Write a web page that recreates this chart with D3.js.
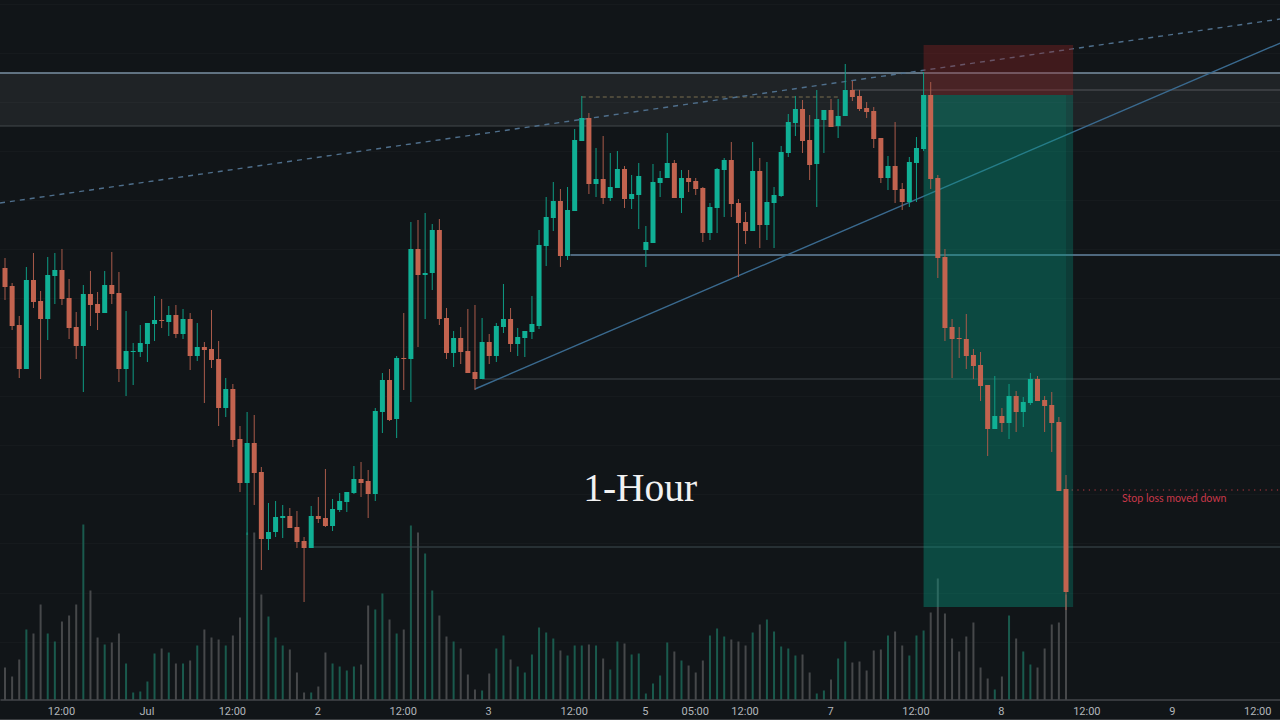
<!DOCTYPE html>
<html>
<head>
<meta charset="utf-8">
<style>
  html, body { margin: 0; padding: 0; background: #111518; }
  svg { display: block; }
  .axis text { font-family: Roboto, sans-serif; font-size: 11px; fill: #b2b5ba; }
</style>
<script src="https://cdnjs.cloudflare.com/ajax/libs/d3/7.8.5/d3.min.js"></script>
</head>
<body>
<div id="chart"></div>
<script>
// hourly candles
const opens = [452,434,395,351,440,419,401,444,450,422,393,374,426,416,407,435,427,351,368,368,
  376,396,400,398,405,386,401,364,373,371,361,312,331,281,237,277,248,181,188,202,
  204,193,179,172,204,202,194,210,218,227,241,239,226,308,340,301,362,361,471,445,
  447,490,402,367,382,369,348,341,378,364,393,401,376,382,388,394,474,502,519,464,
  509,579,602,536,541,522,532,551,521,525,470,477,537,542,557,522,542,539,532,487,
  512,550,560,517,498,489,549,495,517,524,567,597,611,580,556,600,610,594,604,630,
  624,612,609,582,542,554,531,518,557,571,625,542,463,393,382,381,365,355,335,291,
  304,297,324,308,317,341,320,315,298,231];
const highs = [462,437,404,453,467,429,463,467,471,441,408,435,449,428,449,468,448,409,377,395,
  397,424,421,414,415,411,407,397,378,410,379,342,336,294,308,305,253,217,219,215,
  212,209,183,214,223,251,221,227,228,254,258,250,312,347,351,364,407,498,500,507,
  496,501,412,389,393,411,415,402,386,397,436,412,392,389,424,490,523,538,531,533,
  591,624,607,572,584,567,569,554,545,557,494,556,549,587,560,550,550,542,533,517,
  552,562,578,521,508,578,562,558,533,574,606,624,620,605,630,610,621,621,656,639,
  630,618,613,582,564,598,537,563,583,648,638,545,471,401,393,406,371,368,335,344,
  312,336,329,323,347,344,324,328,303,245];
const lows = [420,390,342,351,412,341,380,416,415,381,361,328,394,390,407,416,338,324,335,363,
  358,379,392,384,382,381,350,359,317,352,294,303,273,228,185,215,150,170,183,182,
  192,172,118,172,197,193,189,208,208,226,223,202,219,287,299,282,330,318,373,401,
  430,395,361,353,356,347,330,341,356,358,387,368,364,363,381,391,454,489,453,460,
  509,579,526,523,516,519,532,512,511,491,453,477,523,542,522,507,528,525,478,480,
  487,503,503,443,476,489,472,480,472,523,563,584,567,540,513,567,593,582,604,619,
  609,602,572,537,530,517,510,513,518,569,531,442,379,342,362,351,341,319,264,291,
  288,281,288,293,315,319,288,268,229,110];
const closes = [433,394,351,440,418,401,445,450,421,392,374,426,415,407,435,426,351,369,369,377,
  397,400,399,405,386,401,364,373,370,360,312,331,280,237,277,247,181,188,203,204,
  192,178,172,204,201,194,211,219,228,241,237,226,309,340,300,362,361,471,445,447,
  490,401,367,382,368,347,341,378,364,394,401,376,383,389,396,475,503,519,464,510,
  580,602,536,541,522,533,551,521,526,544,478,538,542,557,522,542,538,531,487,513,
  551,560,516,497,489,549,495,518,525,568,598,611,579,555,601,610,593,604,630,623,
  611,608,581,542,554,530,518,558,572,625,541,462,392,381,381,364,354,334,291,304,
  297,324,308,318,341,319,314,297,229,128];
const volumes = [32,23,40,70,66,95,66,58,78,84,95,175,109,62,55,57,66,36,7,8,
  18,46,51,47,36,36,39,54,70,62,60,54,64,82,167,167,105,83,62,54,
  50,27,7,7,13,47,36,33,29,33,35,94,90,106,80,66,70,174,167,146,
  109,84,63,58,51,25,10,9,26,51,64,40,33,27,45,72,67,61,49,44,
  54,54,55,54,41,30,58,56,45,46,6,16,24,57,48,39,34,27,39,64,
  71,63,60,58,54,67,75,80,68,53,51,44,45,27,6,9,20,41,58,37,
  38,29,49,50,64,68,54,44,64,69,87,121,86,61,48,63,77,32,21,10,
  23,84,61,48,35,32,51,75,77,105];

// time axis: bar number and its label
const tickBars = [8,20,32,44,56,68,80,90,97,104,116,128,140,152,164,176];
const tickLabels = ['12:00','Jul','12:00','2','12:00','3','12:00','5','05:00','12:00','7','12:00','8','12:00','9','12:00'];
const gridPrices = [716,667,618,569,520,471,422,373,324,275,226,177,127,78];

// drawings, as [first bar, last bar, price]
const levelLines = [
  { from: -1, to: 180, price: 647, color: '#7a90a3', width: 1.6 },
  { from: 119, to: 180, price: 630, color: '#54575a', width: 1 },
  { from: -1, to: 180, price: 594, color: '#43484a', width: 1 },
  { from: 79.4, to: 180, price: 465, color: '#6585a0', width: 1.7 },
  { from: 67, to: 180, price: 341, color: '#3f4548', width: 1.2 },
  { from: 43, to: 180, price: 173, color: '#3f4c50', width: 1.2 }
];
const bandPrices = [647, 594];
const entryDash = { from: 81, to: 117, price: 623 };
const trendSolid = [[66, 331], [179.1, 677]];
const trendDashed = [[-0.7, 517], [179.1, 701]];
const stopBox = { from: 129, to: 150, top: 675, bottom: 625 };
const targetBox = { from: 129, to: 150, inner: 149, top: 625, bottom: 113 };
const stopLevel = { from: 149, to: 180, price: 230 };

const chartTitle = '1-Hour';
const stopNote = 'Stop loss moved down';

const width = 1280;
const height = 720;
const axisY = 699.5;

const candles = opens.map((o, i) => ({
  bar: i, open: o, high: highs[i], low: lows[i], close: closes[i], volume: volumes[i]
}));

const x = d3.scaleLinear().domain([0, 149]).range([5, 1066]);
const y = d3.scaleLinear().domain([0, 720]).range([720, 0]);
const yVolume = d3.scaleLinear().domain([0, 180]).range([axisY, axisY - 180]);

const $svg = d3.select('#chart').append('svg')
  .attr('width', width)
  .attr('height', height)
  .style('background', '#111518');

function drawGrid() {
  $svg.append('g').selectAll('line')
    .data(gridPrices)
    .enter().append('line')
    .attr('x1', 0).attr('x2', width)
    .attr('y1', d => y(d) + 0.5).attr('y2', d => y(d) + 0.5)
    .attr('stroke', 'rgba(255,255,255,0.025)');
}

function drawVolume() {
  $svg.append('g').selectAll('rect')
    .data(candles)
    .enter().append('rect')
    .attr('x', d => x(d.bar) - 1)
    .attr('width', 2)
    .attr('y', d => yVolume(d.volume))
    .attr('height', d => axisY - yVolume(d.volume))
    .attr('fill', d => d.close >= d.open ? '#1a5a4d' : '#46484a');
}

function drawBand() {
  $svg.append('rect')
    .attr('x', 0).attr('width', width)
    .attr('y', y(bandPrices[0]))
    .attr('height', y(bandPrices[1]) - y(bandPrices[0]))
    .attr('fill', 'rgba(255,255,255,0.062)');
}

function drawBoxes() {
  $svg.append('rect')
    .attr('x', x(stopBox.from)).attr('width', x(stopBox.to) - x(stopBox.from))
    .attr('y', y(stopBox.top)).attr('height', y(stopBox.bottom) - y(stopBox.top))
    .attr('fill', 'rgba(150,35,35,0.36)');
  $svg.append('rect')
    .attr('x', x(targetBox.from)).attr('width', x(targetBox.to) - x(targetBox.from))
    .attr('y', y(targetBox.top)).attr('height', y(targetBox.bottom) - y(targetBox.top))
    .attr('fill', 'rgba(8,153,129,0.3)');
  $svg.append('rect')
    .attr('x', x(targetBox.from)).attr('width', x(targetBox.inner) - x(targetBox.from))
    .attr('y', y(targetBox.top)).attr('height', y(targetBox.bottom) - y(targetBox.top))
    .attr('fill', 'rgba(8,153,129,0.14)');
}

function drawLevels() {
  $svg.append('g').selectAll('line')
    .data(levelLines)
    .enter().append('line')
    .attr('x1', d => x(d.from)).attr('x2', d => x(d.to))
    .attr('y1', d => y(d.price)).attr('y2', d => y(d.price))
    .attr('stroke', d => d.color)
    .attr('stroke-width', d => d.width);

  $svg.append('line')
    .attr('x1', x(entryDash.from)).attr('x2', x(entryDash.to))
    .attr('y1', y(entryDash.price)).attr('y2', y(entryDash.price))
    .attr('stroke', '#7a6f4f')
    .attr('stroke-dasharray', '4 3');

  const line = d3.line().x(d => x(d[0])).y(d => y(d[1]));
  $svg.append('path')
    .attr('d', line(trendSolid))
    .attr('fill', 'none')
    .attr('stroke', '#3a6a8f')
    .attr('stroke-width', 1.4);
  $svg.append('path')
    .attr('d', line(trendDashed))
    .attr('fill', 'none')
    .attr('stroke', '#4f6f8c')
    .attr('stroke-width', 1.4)
    .attr('stroke-dasharray', '5 5');

  $svg.append('line')
    .attr('x1', x(stopLevel.from)).attr('x2', x(stopLevel.to))
    .attr('y1', y(stopLevel.price)).attr('y2', y(stopLevel.price))
    .attr('stroke', '#c23c44')
    .attr('stroke-dasharray', '1.2 4.5');
}

function drawCandles() {
  const $candles = $svg.append('g').selectAll('g')
    .data(candles)
    .enter().append('g')
    .attr('class', 'candle');

  $candles.append('line')
    .attr('x1', d => x(d.bar)).attr('x2', d => x(d.bar))
    .attr('y1', d => y(d.high)).attr('y2', d => y(d.low))
    .attr('stroke', d => d.close >= d.open ? '#0e9c84' : '#a85a4a')
    .attr('stroke-width', 1);

  $candles.append('rect')
    .attr('x', d => x(d.bar) - 2.5)
    .attr('width', 5)
    .attr('y', d => y(Math.max(d.open, d.close)))
    .attr('height', d => Math.max(1, Math.abs(y(d.open) - y(d.close))))
    .attr('fill', d => d.close >= d.open ? '#10b095' : '#c2634f');
}

function drawAxis() {
  const xFull = x.copy().domain([x.invert(0), x.invert(width)]).range([0, width]);
  const axis = d3.axisBottom(xFull)
    .tickValues(tickBars)
    .tickFormat((d, i) => tickLabels[i])
    .tickSize(0)
    .tickPadding(8);
  const $axis = $svg.append('g')
    .attr('class', 'axis')
    .attr('transform', `translate(0,${axisY})`)
    .call(axis);
  $axis.select('.domain').attr('stroke', '#5c5f62').attr('stroke-width', 1.2);
  $axis.selectAll('.tick text').attr('x', -1);

  $svg.append('line')
    .attr('x1', 0).attr('x2', width)
    .attr('y1', 719.5).attr('y2', 719.5)
    .attr('stroke', '#3a3d40');
}

function drawText() {
  $svg.append('text')
    .attr('x', x(89.2))
    .attr('y', y(219))
    .attr('text-anchor', 'middle')
    .style('font-family', '"Liberation Serif", serif')
    .style('font-size', '39.5px')
    .style('fill', '#f2f2f2')
    .text(chartTitle);

  $svg.append('text')
    .attr('x', x(164.2))
    .attr('y', y(218))
    .attr('text-anchor', 'middle')
    .style('font-family', 'Lato, sans-serif')
    .style('font-size', '10.6px')
    .style('fill', '#c8384a')
    .text(stopNote);
}

drawGrid();
drawVolume();
drawBand();
drawLevels();
drawBoxes();
drawCandles();
drawAxis();
drawText();
</script>
</body>
</html>
